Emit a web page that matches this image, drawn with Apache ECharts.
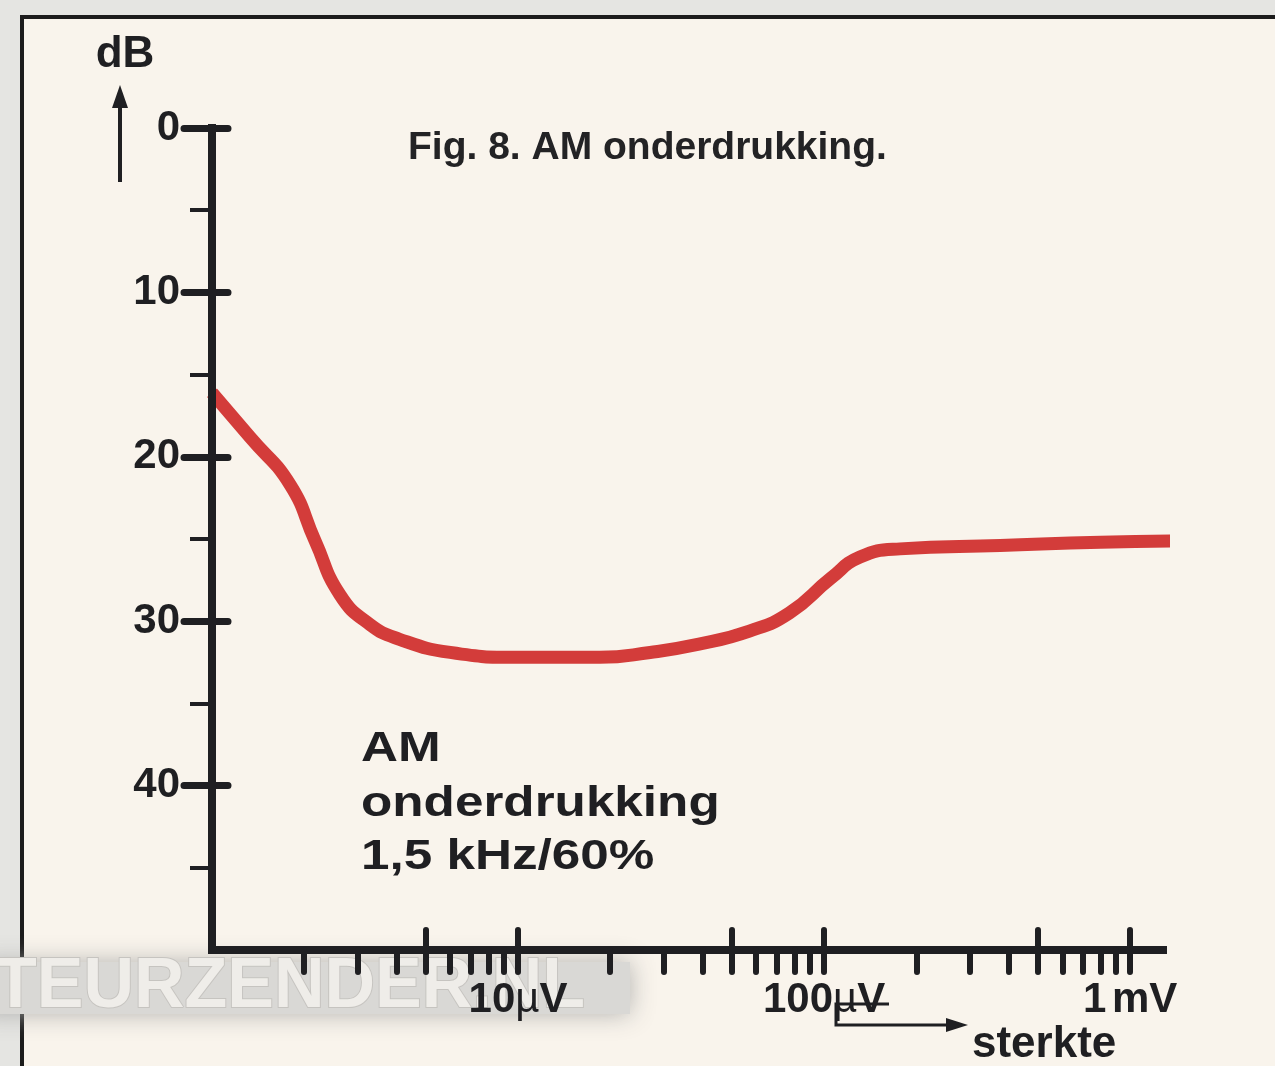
<!DOCTYPE html>
<html>
<head>
<meta charset="utf-8">
<title>Fig. 8. AM onderdrukking</title>
<script src="https://cdn.jsdelivr.net/npm/echarts@6/dist/echarts.min.js"></script>
<style>
html, body { margin: 0; padding: 0; background: #e5e5e2; }
#chart { width: 1275px; height: 1066px; }
</style>
</head>
<body>
<div id="chart"></div>
<script>
// signal strength (µV) against AM suppression (dB)
const strengthUV = [1, 1.33, 1.8, 2.17, 2.62, 3.28, 4.1, 6, 10, 18.5, 27, 39, 57, 77, 105, 131, 177, 376, 800, 1700];
const suppressionDb = [16.1, 18.8, 21.7, 25.1, 28.4, 30.2, 31.1, 31.9, 32.2, 32.2, 31.9, 31.4, 30.6, 29.5, 27.4, 26.1, 25.6, 25.4, 25.2, 25.1];

// axis ticks
const dbLabels = [0, 10, 20, 30, 40];
const dbMinorTicks = [5, 15, 25, 35, 45];
const uvTicks = [2, 3, 4, 5, 6, 7, 8, 9, 10, 20, 30, 40, 50, 60, 70, 80, 90, 100, 200, 300, 400, 500, 600, 700, 800, 900, 1000];
const uvLongTicks = [5, 10, 50, 100, 500, 1000];
const uvLabels = [10, 100, 1000];

const FONT = '"Liberation Sans", Arial, Helvetica, sans-serif';
const INK = '#1f1f22';

let chart = echarts.init(document.getElementById('chart'));

const uvFormatter = (v) => {
    if (v >= 1000) return '{n|' + (v / 1000) + '}{s| }{n|mV}';
    return '{n|' + v + '}{u|µ}{n|V}';
};

const baseX = {
    type: 'log',
    logBase: 10,
    min: 1,
    max: 1280,
    position: 'bottom',
    splitLine: { show: false },
    minorTick: { show: false },
    axisLine: { show: false, onZero: false },
    axisLabel: { show: false },
    z: 6
};
const baseY = {
    type: 'value',
    inverse: true,
    min: 0,
    max: 50,
    interval: 10,
    position: 'left',
    splitLine: { show: false },
    axisLine: { show: false, onZero: false },
    axisLabel: { show: false },
    z: 6
};

let option = {
    backgroundColor: '#e5e5e2',
    animation: false,
    grid: {
        left: 212,
        right: 112,
        top: 128,
        bottom: 116,
        containLabel: false
    },
    title: {
        text: 'Fig. 8. AM onderdrukking.',
        left: 403,
        top: 124,
        textStyle: { fontFamily: FONT, fontSize: 39, fontWeight: 'bold', color: '#232325' }
    },
    xAxis: [
        Object.assign({}, baseX, {
            axisLine: { show: true, onZero: false, lineStyle: { color: INK, width: 8, cap: 'square' } },
            axisTick: {
                show: true, inside: false, length: 22, customValues: uvTicks,
                lineStyle: { color: INK, width: 6, cap: 'round' }
            },
            axisLabel: {
                show: true,
                customValues: uvLabels,
                margin: 29,
                formatter: uvFormatter,
                rich: {
                    n: { fontFamily: FONT, fontSize: 42, fontWeight: 'bold', color: INK, lineHeight: 42 },
                    u: { fontFamily: FONT, fontSize: 42, fontWeight: 'normal', color: INK, lineHeight: 42 },
                    s: { fontFamily: FONT, fontSize: 20, lineHeight: 42 }
                }
            }
        }),
        Object.assign({}, baseX, {
            axisTick: {
                show: true, inside: true, length: 20, customValues: uvLongTicks,
                lineStyle: { color: INK, width: 6, cap: 'round' }
            }
        })
    ],
    yAxis: [
        Object.assign({}, baseY, {
            axisLine: { show: true, onZero: false, lineStyle: { color: INK, width: 8, cap: 'square' } },
            axisTick: {
                show: true, inside: false, length: 22, customValues: dbMinorTicks,
                lineStyle: { color: INK, width: 4 }
            },
            axisLabel: {
                show: true,
                customValues: dbLabels,
                margin: 32,
                fontFamily: FONT,
                fontSize: 42,
                fontWeight: 'bold',
                color: INK
            }
        }),
        Object.assign({}, baseY, {
            axisTick: {
                show: true, inside: false, length: 28, customValues: dbLabels,
                lineStyle: { color: INK, width: 7, cap: 'round' }
            }
        }),
        Object.assign({}, baseY, {
            axisTick: {
                show: true, inside: true, length: 16, customValues: dbLabels,
                lineStyle: { color: INK, width: 7, cap: 'round' }
            }
        })
    ],
    series: [{
        name: 'AM onderdrukking',
        type: 'line',
        xAxisIndex: 0,
        yAxisIndex: 0,
        data: strengthUV.map((v, i) => [v, suppressionDb[i]]),
        smooth: 0.5,
        symbol: 'none',
        clip: false,
        silent: true,
        z: 3,
        lineStyle: { color: '#d33c3a', width: 13, cap: 'butt', join: 'round' }
    }],
    graphic: [
        // page frame
        {
            type: 'rect', z: -10,
            shape: { x: 22, y: 17, width: 1300, height: 1100 },
            style: { fill: '#f9f4ec', stroke: '#1c1c1c', lineWidth: 4 }
        },
        // watermark band and lettering
        {
            type: 'rect', z: -6,
            shape: { x: -20, y: 962, width: 650, height: 52 },
            style: { fill: '#d9d8d5', shadowColor: 'rgba(170,170,168,0.9)', shadowBlur: 24 }
        },
        {
            type: 'text', z: -5, x: -6, y: 988,
            style: {
                text: 'TEURZENDER.NL', font: 'bold 70px ' + FONT,
                fill: '#efede9', stroke: '#c6c4c0', lineWidth: 2,
                verticalAlign: 'middle', align: 'left'
            }
        },
        // y unit with arrow
        {
            type: 'text', x: 125, y: 55,
            style: { text: 'dB', font: 'bold 44px ' + FONT, fill: INK, align: 'center', verticalAlign: 'middle' }
        },
        {
            type: 'line',
            shape: { x1: 120, y1: 182, x2: 120, y2: 102 },
            style: { stroke: INK, lineWidth: 4 }
        },
        {
            type: 'polygon',
            shape: { points: [[120, 85], [112, 108], [128, 108]] },
            style: { fill: INK }
        },
        // curve annotation
        {
            type: 'text', x: 361, y: 749, scaleX: 1.22,
            style: { text: 'AM', font: 'bold 42px ' + FONT, fill: INK, verticalAlign: 'middle' }
        },
        {
            type: 'text', x: 361, y: 804, scaleX: 1.22,
            style: { text: 'onderdrukking', font: 'bold 42px ' + FONT, fill: INK, verticalAlign: 'middle' }
        },
        {
            type: 'text', x: 361, y: 857, scaleX: 1.22,
            style: { text: '1,5 kHz/60%', font: 'bold 42px ' + FONT, fill: INK, verticalAlign: 'middle' }
        },
        // x unit with bent arrow
        {
            type: 'polyline',
            shape: { points: [[889, 1004], [836, 1004], [836, 1025], [950, 1025]] },
            style: { stroke: INK, lineWidth: 3, fill: null }
        },
        {
            type: 'polygon',
            shape: { points: [[946, 1018], [968, 1025], [946, 1032]] },
            style: { fill: INK }
        },
        {
            type: 'text', x: 972, y: 1045,
            style: { text: 'sterkte', font: 'bold 44px ' + FONT, fill: INK, verticalAlign: 'middle' }
        }
    ]
};

chart.setOption(option);
</script>
</body>
</html>
